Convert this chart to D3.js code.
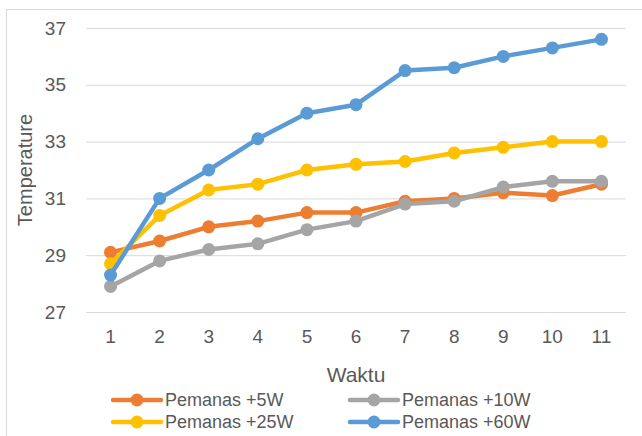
<!DOCTYPE html>
<html>
<head>
<meta charset="utf-8">
<script src="https://cdn.jsdelivr.net/npm/d3@7"></script>
<style>
  html, body { margin: 0; padding: 0; background: #fff; }
  svg { display: block; font-family: "Liberation Sans", Arial, sans-serif; }
</style>
</head>
<body>
<svg id="chart" width="642" height="436"></svg>
<script>
const categories = ["1","2","3","4","5","6","7","8","9","10","11"];
const yTicks = [27, 29, 31, 33, 35, 37];
const seriesNames = ["Pemanas +5W", "Pemanas +10W", "Pemanas +25W", "Pemanas +60W"];
const values5W  = [29.1, 29.5, 30.0, 30.2, 30.5, 30.5, 30.9, 31.0, 31.2, 31.1, 31.5];
const values10W = [27.9, 28.8, 29.2, 29.4, 29.9, 30.2, 30.8, 30.9, 31.4, 31.6, 31.6];
const values25W = [28.7, 30.4, 31.3, 31.5, 32.0, 32.2, 32.3, 32.6, 32.8, 33.0, 33.0];
const values60W = [28.3, 31.0, 32.0, 33.1, 34.0, 34.3, 35.5, 35.6, 36.0, 36.3, 36.6];
const colors = ["#ED7D31", "#A5A5A5", "#FFC000", "#5B9BD5"];
const xTitle = "Waktu";
const yTitle = "Temperature";

const series = [values5W, values10W, values25W, values60W].map((v, i) => ({
  name: seriesNames[i], color: colors[i], values: v
}));

const svg = d3.select("#chart");
const plot = { left: 86, right: 626, top: 28, bottom: 312 };

// outer frame
svg.append("rect").attr("x", 6.5).attr("y", 9.5).attr("width", 700).attr("height", 500)
  .attr("fill", "none").attr("stroke", "#D9D9D9").attr("stroke-width", 1);

const x = d3.scaleBand().domain(categories).range([plot.left, plot.right]);
const y = d3.scaleLinear().domain([27, 37]).range([plot.bottom, plot.top]);

// gridlines
const yAxis = d3.axisLeft(y).tickValues(yTicks).tickSize(-(plot.right - plot.left)).tickPadding(20).tickFormat(d3.format("d"));
const gy = svg.append("g").attr("transform", `translate(${plot.left},0)`).call(yAxis);
gy.select(".domain").remove();
gy.selectAll(".tick line").attr("stroke", "#D9D9D9").attr("stroke-width", 1);
gy.selectAll(".tick text").attr("fill", "#595959").attr("font-size", 19)
  .attr("font-family", "Liberation Sans, Arial, sans-serif");

// x axis labels
const xAxis = d3.axisBottom(x).tickSize(0).tickPadding(18);
const gx = svg.append("g").attr("transform", `translate(0,${plot.bottom})`).call(xAxis);
gx.select(".domain").remove();
gx.selectAll(".tick text").attr("fill", "#595959").attr("font-size", 19)
  .attr("font-family", "Liberation Sans, Arial, sans-serif");

// titles
svg.append("text").attr("x", 356).attr("y", 382).attr("text-anchor", "middle")
  .attr("fill", "#595959").attr("font-size", 21).text(xTitle);
svg.append("text").attr("transform", "translate(32,170) rotate(-90)").attr("text-anchor", "middle")
  .attr("fill", "#595959").attr("font-size", 20).text(yTitle);

// lines
const line = d3.line().x((d, i) => x(categories[i]) + x.bandwidth() / 2).y(d => y(d));
const gs = svg.append("g").selectAll("g").data(series).join("g");
gs.append("path").attr("d", d => line(d.values)).attr("fill", "none")
  .attr("stroke", d => d.color).attr("stroke-width", 4.5).attr("stroke-linejoin", "round").attr("stroke-linecap", "round");
gs.selectAll("circle").data(d => d.values.map(v => ({ v, c: d.color })))
  .join("circle")
  .attr("cx", (d, i) => x(categories[i]) + x.bandwidth() / 2)
  .attr("cy", d => y(d.v)).attr("r", 6.5).attr("fill", d => d.c);

// legend
const legendPos = [[113, 400], [350, 400], [113, 422], [350, 422]];
const lg = svg.append("g").selectAll("g").data(series).join("g")
  .attr("transform", (d, i) => `translate(${legendPos[i][0]},${legendPos[i][1]})`);
lg.append("line").attr("x1", 0).attr("x2", 48).attr("y1", 0).attr("y2", 0)
  .attr("stroke", d => d.color).attr("stroke-width", 4.5).attr("stroke-linecap", "round");
lg.append("circle").attr("cx", 24).attr("cy", 0).attr("r", 6.5).attr("fill", d => d.color);
lg.append("text").attr("x", 52).attr("y", 0).attr("dy", "0.35em")
  .attr("fill", "#595959").attr("font-size", 18).text(d => d.name);
</script>
</body>
</html>
